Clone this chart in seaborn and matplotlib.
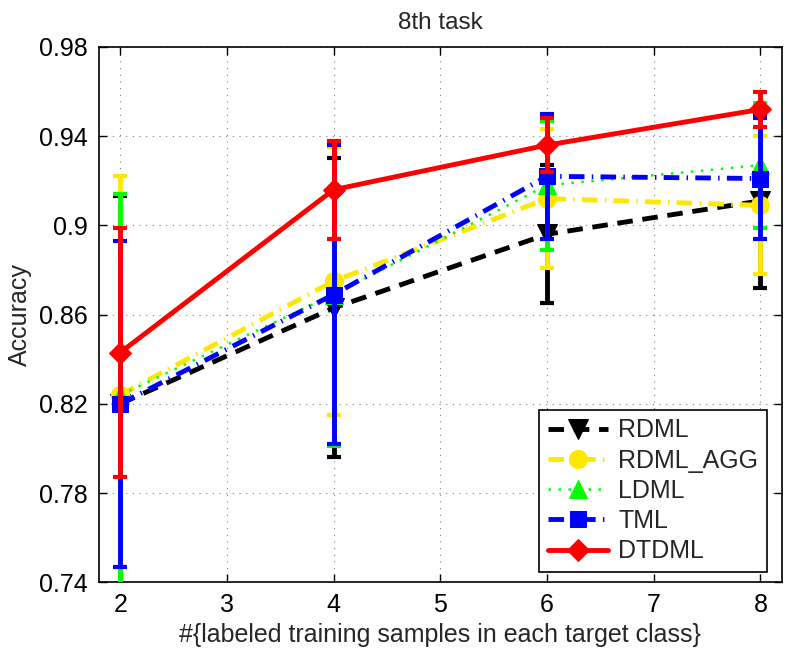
import numpy as np
import pandas as pd
import matplotlib
matplotlib.use('Agg')
import matplotlib.pyplot as plt
import seaborn as sns

## Data
n_samples   = [2, 4, 6, 8]
methods     = ['RDML', 'RDML_AGG', 'LDML', 'TML', 'DTDML']
acc_rdml    = [0.820, 0.863, 0.896, 0.911]
acc_agg     = [0.824, 0.875, 0.912, 0.909]
acc_ldml    = [0.824, 0.869, 0.918, 0.927]
acc_tml     = [0.820, 0.869, 0.922, 0.921]
acc_dtdml   = [0.843, 0.916, 0.936, 0.952]
err_rdml    = [0.093, 0.067, 0.031, 0.039]
err_agg     = [0.098, 0.060, 0.031, 0.031]
err_ldml    = [0.090, 0.068, 0.029, 0.028]
err_tml     = [0.073, 0.067, 0.028, 0.027]
err_dtdml   = [0.056, 0.022, 0.012, 0.008]
yticks      = [0.74, 0.78, 0.82, 0.86, 0.90, 0.94, 0.98]
ytick_lbls  = ['0.74', '0.78', '0.82', '0.86', '0.9', '0.94', '0.98']
xticks      = [2, 3, 4, 5, 6, 7, 8]

accs = [acc_rdml, acc_agg, acc_ldml, acc_tml, acc_dtdml]
errs = [err_rdml, err_agg, err_ldml, err_tml, err_dtdml]

## Styles (MATLAB look)
colors  = ['#000000', '#FFE800', '#00FF00', '#0000FF', '#FF0000']
markers = ['v', 'o', '^', 's', 'D']
msizes  = [14, 13, 13, 11, 11]
lws     = [3.5, 3.5, 1.8, 3.5, 3.5]
lstyles = [(0, (3.2, 2.0)), (0, (3.2, 1.5, 0.3, 1.5)), (0, (1.0, 3.0)),
           (0, (3.2, 1.5, 0.3, 1.5)), '-']

sns.set_style('ticks')
plt.rcParams['font.family'] = ['Liberation Sans', 'DejaVu Sans']

fig = plt.figure(figsize=(8.11, 6.52), dpi=100)
ax = fig.add_axes([0.122, 0.107, 0.842, 0.821])

## Loop on methods
for m in range(len(methods)):
    df = pd.DataFrame({'n': n_samples, 'acc': accs[m]})
    ax.errorbar(n_samples, accs[m], yerr=errs[m], fmt='none', ecolor=colors[m],
                elinewidth=3.5, capsize=5, capthick=3, zorder=2 + m)
    sns.lineplot(data=df, x='n', y='acc', ax=ax, color=colors[m], lw=lws[m],
                 linestyle=lstyles[m], marker=markers[m], markersize=msizes[m],
                 markeredgecolor=colors[m], label=methods[m], zorder=2 + m)

## Plot customization
ax.set_xlim(1.8, 8.2)
ax.set_ylim(0.74, 0.98)
ax.set_xticks(xticks)
ax.set_yticks(yticks)
ax.set_yticklabels(ytick_lbls)
ax.tick_params(direction='in', length=6, width=1, labelsize=18, top=True, right=True,
               colors='k', pad=8)
ax.grid(True, color='#808080', linestyle=(0, (1, 5)), linewidth=0.8)
for sp in ax.spines.values():
    sp.set_visible(True)
    sp.set_color('k')
    sp.set_linewidth(1.2)
ax.set_title('8th task', fontsize=17.5, pad=13)
ax.set_xlabel('#{labeled training samples in each target class}', fontsize=18, labelpad=4)
ax.set_ylabel('Accuracy', fontsize=18, labelpad=5)

leg = ax.legend(loc='lower right', bbox_to_anchor=(0.978, 0.019), borderaxespad=0,
                fontsize=18, numpoints=1, handlelength=2.4, handletextpad=0.4,
                fancybox=False, framealpha=1, edgecolor='k', labelspacing=0.25,
                borderpad=0.35)
leg.get_frame().set_linewidth(1.2)

fig.savefig('out.png', dpi=100)
